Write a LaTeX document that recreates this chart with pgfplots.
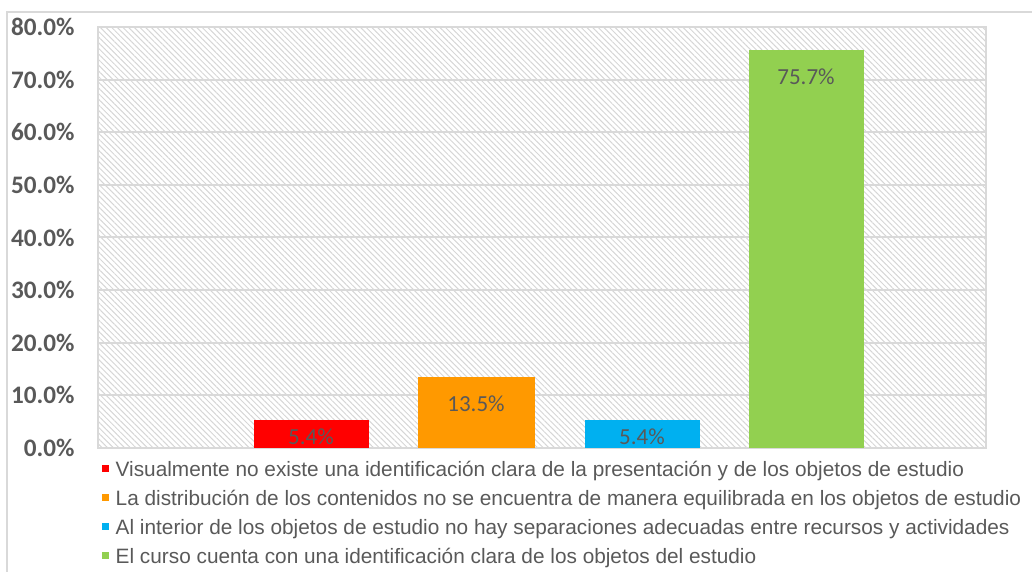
\documentclass[border=0pt]{standalone}
\usepackage{pgfplots}
\pgfplotsset{compat=1.18}
\usepackage{fontspec}
\setmainfont{Liberation Sans}
\newfontfamily\carlito{Carlito}
\usetikzlibrary{patterns.meta}
\definecolor{cRed}{HTML}{FF0000}
\definecolor{cOrange}{HTML}{FF9900}
\definecolor{cBlue}{HTML}{00B0F0}
\definecolor{cGreen}{HTML}{92D050}
\definecolor{txt}{HTML}{595959}
\definecolor{lbl}{HTML}{595959}
\definecolor{gridc}{HTML}{D9D9D9}
\begin{document}
\begin{tikzpicture}
\begin{axis}[
  scale only axis,
  width=444pt, height=210.5pt,
  xmin=98, xmax=986, ymin=0, ymax=80,
  xtick=\empty,
  ytick={0,10,20,30,40,50,60,70,80},
  yticklabels={0.0\%,10.0\%,20.0\%,30.0\%,40.0\%,50.0\%,60.0\%,70.0\%,80.0\%},
  yticklabel style={font=\carlito\bfseries\fontsize{12.6}{14}\selectfont, text=txt, inner sep=0pt, xshift=-11.5pt},
  major tick length=0pt,
  ymajorgrids,
  grid style={draw=gridc, line width=1pt},
  axis line style={draw=gridc, line width=1pt},
  axis background/.style={pattern={Lines[angle=-45,distance=2pt,line width=0.5pt]}, pattern color=gray!32},
  clip=false,
  legend style={at={(-0.003,-0.022)}, anchor=north west, draw=none, fill=none,
    font=\fontsize{10.4}{11}\selectfont, text=txt,
    nodes={inner sep=0pt, text height=7.5pt, text depth=2.5pt},
    row sep=4.5pt,
    /tikz/every odd column/.append style={column sep=3.5pt}},
  legend cell align=left,
  legend image code/.code={\fill[#1] (0pt,0pt) rectangle (3.5pt,3.5pt);},
  /pgf/number format/assume math mode=true,
  nodes near coords={\pgfmathprintnumber[fixed,fixed zerofill,precision=1]{\pgfplotspointmeta}\%},
  every node near coord/.append style={font=\carlito\fontsize{11.5}{13}\selectfont, text=lbl, anchor=center},
]
\addplot[ybar, bar width=115, bar shift=0pt, fill=cRed, draw=none,
  every node near coord/.append style={yshift=-8.5pt}] coordinates {(311,5.4)};
\addlegendentry{Visualmente no existe una identificación clara de la presentación y de los objetos de estudio}
\addplot[ybar, bar width=117, bar shift=0pt, fill=cOrange, draw=none,
  every node near coord/.append style={yshift=-13.5pt}] coordinates {(476,13.5)};
\addlegendentry{La distribución de los contenidos no se encuentra de manera equilibrada en los objetos de estudio}
\addplot[ybar, bar width=115, bar shift=0pt, fill=cBlue, draw=none,
  every node near coord/.append style={yshift=-8.5pt}] coordinates {(642,5.4)};
\addlegendentry{Al interior de los objetos de estudio no hay separaciones adecuadas entre recursos y actividades}
\addplot[ybar, bar width=115, bar shift=0pt, fill=cGreen, draw=none,
  every node near coord/.append style={yshift=-13.5pt}] coordinates {(806,75.7)};
\addlegendentry{El curso cuenta con una identificación clara de los objetos del estudio}
\draw[gridc, line width=1pt] (axis cs:7,-23.56) -- (axis cs:7,82.85) -- (axis cs:1032,82.85);
\coordinate (BL) at (axis cs:0,-23.56);
\coordinate (TR) at (axis cs:1032,85.13);
\end{axis}
\pgfresetboundingbox
\path[use as bounding box] (BL) rectangle (TR);
\end{tikzpicture}
\end{document}
